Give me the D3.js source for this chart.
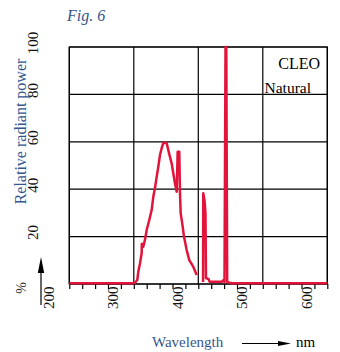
<!DOCTYPE html>
<html>
<head>
<meta charset="utf-8">
<script src="https://cdn.jsdelivr.net/npm/d3@7"></script>
<style>
  html, body { margin: 0; padding: 0; background: #fff; }
  svg { display: block; }
  text { font-family: "Liberation Serif", "DejaVu Serif", serif; }
</style>
</head>
<body>
<svg id="chart" width="340" height="352"></svg>
<script>
// Spectral power distribution of a CLEO Natural lamp
const wavelengths = [200, 299.2, 301.8, 305.4, 307, 309.6, 312.2, 312.4, 314.7, 317.3, 320, 324, 327.7,
  330.2, 332.8, 335.5, 338, 340.6, 343.2, 345.7, 348.3, 351, 353.5, 356, 358.7, 361.2, 363.8, 366.5,
  368, 370.5, 371.6, 372.7, 375.8, 377.8, 382, 386, 392.2, 397.5,
  null,
  407.4, 407.7, 409.6, 411.1, 411.9, 415.8, 417.3, 436.7, 439, 440.6, 442.2, 443.4, 444.8, 452.2, 600];
const relPower = [0.3, 0.3, 0.5, 1.7, 5.2, 8.7, 13, 17, 15.7, 18.6, 22.8, 27, 31.2,
  36.8, 40.4, 45.3, 49.5, 54.4, 57.3, 59.4, 59.6, 59.4, 56.5, 53.7, 50.9, 46.7, 42.5, 38.9,
  55.8, 55.8, 38.3, 29.8, 24.2, 20, 14.3, 10.1, 7.3, 3.8,
  null,
  0.8, 38.3, 35.4, 30, 2.5, 2.1, 1, 1, 1.7, 0.8, 100, 100, 0.8, 0.3, 0.3];

const xGrid = [200, 300, 400, 500, 600];
const xTicks = d3.range(200, 601, 20);
const xLabels = [200, 300, 400, 500, 600];
const yGrid = [0, 20, 40, 60, 80, 100];
const yLabels = [20, 40, 60, 80, 100];

const blue = "#35568c";
const red = "#e2143c";

const svg = d3.select("#chart");
const plotLeft = 69.3, plotRight = 327.3, plotTop = 47, plotBottom = 284;

const x = d3.scaleLinear().domain([200, 600]).range([plotLeft, plotRight]);
const y = d3.scaleLinear().domain([0, 100]).range([plotBottom, plotTop]);

// grid
svg.append("g").selectAll("line").data(xGrid).join("line")
  .attr("x1", d => x(d)).attr("x2", d => x(d))
  .attr("y1", plotTop).attr("y2", plotBottom)
  .attr("stroke", "#000").attr("stroke-width", 1.2);
svg.append("g").selectAll("line").data(yGrid).join("line")
  .attr("x1", plotLeft).attr("x2", plotRight)
  .attr("y1", d => y(d)).attr("y2", d => y(d))
  .attr("stroke", "#000").attr("stroke-width", 1.2);

// bottom ticks and rotated labels
const xAxis = svg.append("g")
  .attr("transform", `translate(0,${plotBottom})`)
  .call(d3.axisBottom(x).tickValues(xTicks).tickSize(5).tickFormat(""));
xAxis.select(".domain").remove();
xAxis.selectAll(".tick line").attr("stroke", "#000").attr("stroke-width", 1.2);

svg.append("g").selectAll("text").data(xLabels).join("text")
  .attr("transform", d => `translate(${x(d) - 15.5},${plotBottom + 2.5}) rotate(-90)`)
  .attr("text-anchor", "end")
  .attr("font-size", 15)
  .attr("fill", "#111")
  .text(d => d);

// left labels, rotated
svg.append("g").selectAll("text").data(yLabels).join("text")
  .attr("transform", d => `translate(38,${y(d) - 4}) rotate(-90)`)
  .attr("text-anchor", "middle")
  .attr("font-size", 15)
  .attr("fill", "#111")
  .text(d => d);

svg.append("text")
  .attr("transform", "translate(26,131.5) rotate(-90)")
  .attr("text-anchor", "middle")
  .attr("font-size", 16)
  .attr("fill", blue)
  .text("Relative radiant power");

svg.append("text")
  .attr("transform", "translate(26,288) rotate(-90)")
  .attr("text-anchor", "middle")
  .attr("font-size", 14)
  .attr("fill", "#333")
  .text("%");

// upward arrow beside the axis
svg.append("line")
  .attr("x1", 41).attr("x2", 41).attr("y1", 305).attr("y2", 268)
  .attr("stroke", "#000").attr("stroke-width", 1.2);
svg.append("path")
  .attr("d", "M41,257 L37.8,273 L44.2,273 Z")
  .attr("fill", "#000");

// frame
svg.append("rect")
  .attr("x", plotLeft).attr("y", plotTop)
  .attr("width", plotRight - plotLeft).attr("height", plotBottom - plotTop)
  .attr("fill", "none").attr("stroke", "#000").attr("stroke-width", 1.2);

// spectrum, drawn over the frame
const line = d3.line()
  .defined((d, i) => wavelengths[i] !== null)
  .x((d, i) => x(wavelengths[i]))
  .y((d, i) => y(relPower[i]));
svg.append("path")
  .datum(relPower)
  .attr("d", line)
  .attr("fill", "none")
  .attr("stroke", red)
  .attr("stroke-width", 2.5)
  .attr("stroke-linejoin", "round");

// titles and annotations
svg.append("text")
  .attr("x", 67).attr("y", 21)
  .attr("font-size", 16).attr("font-style", "italic")
  .attr("fill", blue)
  .text("Fig. 6");

svg.append("text")
  .attr("x", 320).attr("y", 69)
  .attr("text-anchor", "end")
  .attr("font-size", 16).attr("fill", "#000")
  .text("CLEO");

svg.append("text")
  .attr("x", 264.5).attr("y", 92.5)
  .attr("font-size", 15.5).attr("fill", "#000")
  .text("Natural");

svg.append("text")
  .attr("x", 152).attr("y", 347)
  .attr("font-size", 15).attr("fill", blue)
  .text("Wavelength");

svg.append("line")
  .attr("x1", 242).attr("x2", 280).attr("y1", 343.5).attr("y2", 343.5)
  .attr("stroke", "#000").attr("stroke-width", 1.2);
svg.append("path")
  .attr("d", "M291,343.5 L278,341 L278,346 Z")
  .attr("fill", "#000");

svg.append("text")
  .attr("x", 296).attr("y", 347)
  .attr("font-size", 15).attr("fill", "#000")
  .text("nm");
</script>
</body>
</html>
